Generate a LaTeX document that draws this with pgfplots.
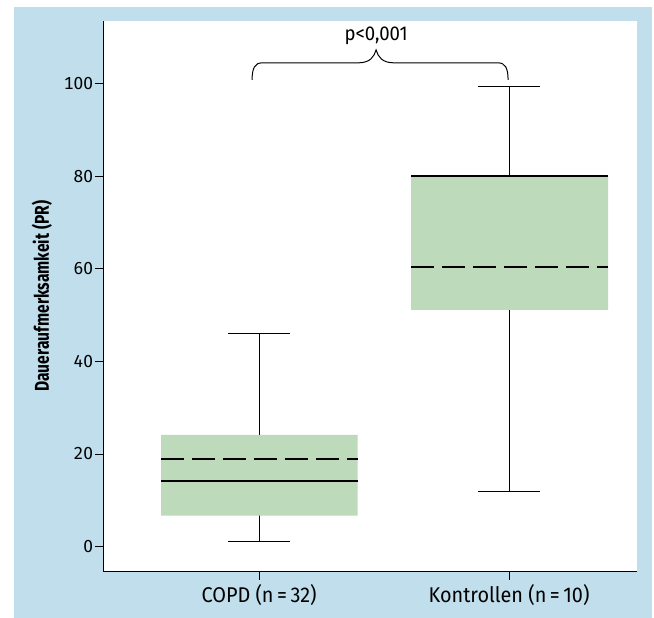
\documentclass[border=0pt]{standalone}
\usepackage{pgfplots}
\pgfplotsset{compat=1.18}
\usepackage{fontspec}
\setmainfont{Fira Sans}[Numbers={Monospaced,Lining}]
\newfontfamily\xfont{Fira Sans}[FakeStretch=0.93]
\newfontfamily\ylfont{Fira Sans}[FakeStretch=0.78]
\definecolor{bgblue}{RGB}{192,222,236}
\definecolor{boxgreen}{RGB}{189,218,186}
\begin{document}
\begin{tikzpicture}[x=1pt,y=1pt]
\path[fill=white] (0,0) rectangle (490.5,463.5);
\fill[bgblue] (10.5,0) rectangle (489,458.25);
\begin{axis}[
  at={(77.5pt,34.7pt)}, anchor=south west,
  scale only axis, width=400.5pt, height=413.25pt,
  xmin=0.377, xmax=2.513, ymin=-5.45, ymax=113.6,
  axis x line*=bottom, axis y line*=left,
  axis line style={-, line width=0.9pt},
  axis background/.style={fill=white},
  xtick={1,2}, xticklabels={COPD (n\,=\,32), Kontrollen (n\,=\,10)},
  ytick={0,20,...,100},
  tick align=outside, major tick length=6pt,
  tick style={black, line width=0.6pt},
  yticklabel style={font=\fontsize{13}{15}\selectfont, inner sep=0pt, xshift=-1.5pt},
  xticklabel style={font=\xfont\fontsize{16}{18}\selectfont, inner sep=0pt, yshift=-3pt},
  /pgf/number format/assume math mode=true,
  ylabel={Daueraufmerksamkeit (PR)},
  ylabel style={font=\ylfont\fontsize{15}{17}\selectfont\bfseries, at={(axis description cs:-0.115,0.5)}, anchor=center},
  clip=false,
]
% COPD
\addplot[black, line width=0.75pt] coordinates {(1,1.12) (1,46.1)};
\addplot[black, line width=0.75pt] coordinates {(0.875,1.12) (1.125,1.12)};
\addplot[black, line width=0.75pt] coordinates {(0.875,46.1) (1.125,46.1)};
\addplot[fill=boxgreen, draw=none] coordinates {(0.608,6.66) (1.394,6.66) (1.394,24.1) (0.608,24.1) (0.608,6.66)};
\addplot[black, line width=1.5pt] coordinates {(0.608,14.1) (1.394,14.1)};
\addplot[black, line width=1.5pt, dash pattern=on 17.25pt off 6pt] coordinates {(0.608,18.85) (1.394,18.85)};
% Kontrollen
\addplot[black, line width=0.75pt] coordinates {(2,11.9) (2,99.4)};
\addplot[black, line width=0.75pt] coordinates {(1.875,11.9) (2.125,11.9)};
\addplot[black, line width=0.75pt] coordinates {(1.875,99.4) (2.125,99.4)};
\addplot[fill=boxgreen, draw=none] coordinates {(1.608,51.1) (2.396,51.1) (2.396,80.1) (1.608,80.1) (1.608,51.1)};
\addplot[black, line width=1.5pt] coordinates {(1.608,80.1) (2.396,80.1)};
\addplot[black, line width=1.5pt, dash pattern=on 17.25pt off 6pt] coordinates {(1.608,60.4) (2.396,60.4)};
% brace
\draw[line width=0.75pt] (axis cs:0.972,100.8) .. controls (axis cs:0.972,103.4) and (axis cs:0.984,104.5) .. (axis cs:1.012,104.5)
  -- (axis cs:1.396,104.5) .. controls (axis cs:1.444,104.5) and (axis cs:1.460,105.8) .. (axis cs:1.468,107.3)
  .. controls (axis cs:1.476,105.8) and (axis cs:1.492,104.5) .. (axis cs:1.540,104.5)
  -- (axis cs:1.956,104.5) .. controls (axis cs:1.984,104.5) and (axis cs:1.996,103.4) .. (axis cs:1.996,100.8);
\node[font=\xfont\fontsize{15}{17}\selectfont] at (axis cs:1.468,110.3) {p<0,001};
\end{axis}
\end{tikzpicture}
\end{document}
